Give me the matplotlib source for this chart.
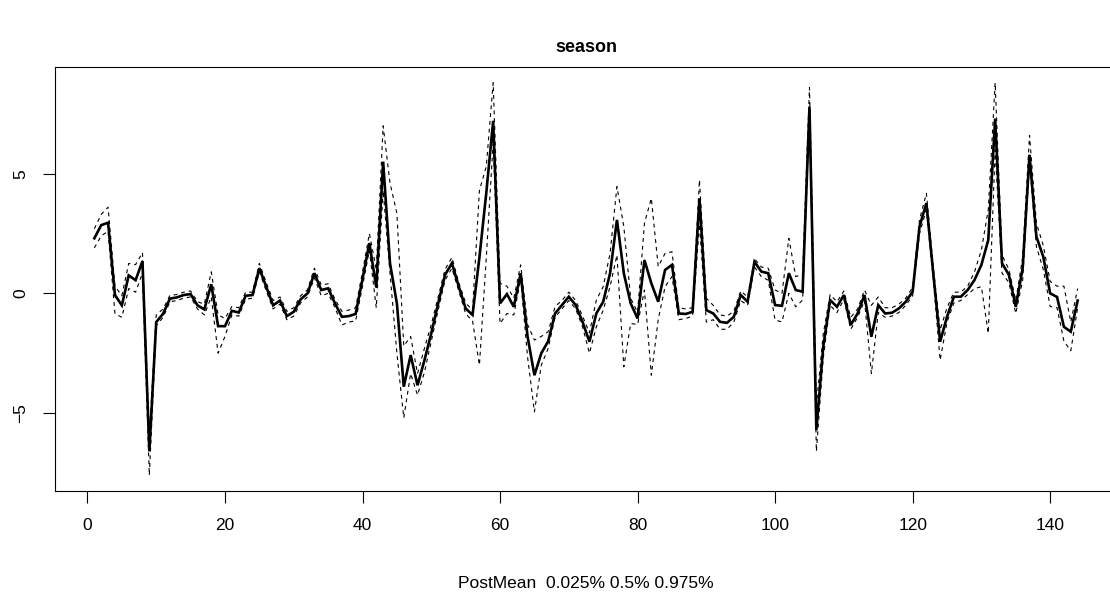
import matplotlib
matplotlib.use("Agg")
import matplotlib.pyplot as plt
import numpy as np

plt.rcParams["font.family"] = ["Liberation Sans", "DejaVu Sans"]

# Posterior summaries of the seasonal random effect, one value per index 1..144
index = list(range(1, 145))

post_mean = [
    2.30, 2.85, 2.95, -0.07, -0.50, 0.75, 0.55, 1.35, -6.60, -1.20,
    -0.85, -0.22, -0.17, -0.07, -0.03, -0.50, -0.67, 0.38, -1.37, -1.37,
    -0.73, -0.80, -0.10, -0.07, 1.05, 0.28, -0.50, -0.30, -0.95, -0.77,
    -0.25, 0.00, 0.84, 0.14, 0.21, -0.42, -0.98, -0.95, -0.86, 0.60,
    2.10, 0.25, 5.50, 1.25, -0.42, -3.90, -2.58, -3.84, -2.80, -1.67,
    -0.42, 0.77, 1.26, 0.28, -0.63, -0.90, 1.50, 4.20, 7.20, -0.42,
    -0.03, -0.56, 0.84, -1.80, -3.42, -2.50, -2.00, -0.84, -0.49, -0.14,
    -0.49, -1.19, -2.02, -0.84, -0.35, 0.84, 3.07, 0.84, -0.42, -1.05,
    1.39, 0.42, -0.35, 0.98, 1.19, -0.84, -0.86, -0.77, 3.97, -0.70,
    -0.84, -1.19, -1.23, -0.98, -0.07, -0.35, 1.32, 0.91, 0.84, -0.49,
    -0.52, 0.84, 0.14, 0.07, 7.80, -5.72, -2.23, -0.28, -0.56, -0.07,
    -1.32, -0.84, -0.07, -1.81, -0.49, -0.84, -0.81, -0.63, -0.35, 0.07,
    2.79, 3.77, 0.84, -2.02, -0.98, -0.14, -0.14, 0.14, 0.56, 1.19,
    2.23, 7.30, 1.26, 0.77, -0.56, 1.05, 5.79, 2.37, 1.53, 0.00,
    -0.15, -1.40, -1.60, -0.30,
]

q025 = [
    1.90, 2.40, 2.60, -0.85, -1.00, 0.20, 0.05, 0.85, -7.60, -1.35,
    -1.00, -0.35, -0.30, -0.20, -0.15, -0.65, -0.90, -0.15, -2.50, -1.80,
    -0.90, -0.95, -0.25, -0.20, 0.90, 0.10, -0.65, -0.45, -1.10, -0.95,
    -0.40, -0.15, 0.65, -0.10, 0.00, -0.60, -1.32, -1.20, -1.15, 0.30,
    1.80, -0.60, 4.30, 0.84, -2.50, -5.20, -3.35, -4.25, -3.30, -2.00,
    -0.70, 0.55, 1.05, 0.10, -0.85, -1.15, -3.00, 1.50, 6.30, -1.26,
    -0.84, -0.90, 0.60, -2.65, -4.95, -3.00, -2.30, -1.00, -0.65, -0.30,
    -0.65, -1.40, -2.50, -1.40, -0.70, 0.28, 1.60, -3.07, -1.26, -1.30,
    0.14, -3.42, -1.10, 0.28, 0.70, -1.10, -1.05, -0.95, 2.90, -1.20,
    -1.10, -1.50, -1.50, -1.20, -0.30, -0.50, 1.10, 0.70, 0.55, -1.12,
    -1.19, 0.00, -0.56, -0.28, 7.50, -6.60, -2.70, -0.50, -0.80, -0.25,
    -1.50, -1.00, -0.30, -3.35, -0.80, -1.00, -0.95, -0.80, -0.50, -0.10,
    2.50, 3.50, 0.60, -2.79, -1.20, -0.40, -0.30, -0.05, 0.20, 0.28,
    -1.67, 6.00, 0.85, 0.45, -0.84, 0.55, 5.50, 1.95, 1.00, -0.55,
    -0.60, -2.00, -2.40, -0.60,
]

q975 = [
    2.70, 3.30, 3.60, 0.30, -0.10, 1.25, 1.20, 1.70, -6.00, -0.90,
    -0.65, -0.08, -0.05, 0.05, 0.10, -0.35, -0.45, 0.90, -0.90, -1.05,
    -0.55, -0.60, 0.05, 0.05, 1.25, 0.45, -0.30, -0.15, -0.75, -0.60,
    -0.10, 0.15, 1.05, 0.35, 0.40, -0.25, -0.75, -0.70, -0.60, 0.90,
    2.50, 1.00, 7.00, 4.60, 3.35, -2.20, -1.80, -3.35, -2.30, -1.30,
    -0.15, 1.00, 1.50, 0.45, -0.40, -0.70, 4.30, 5.30, 8.80, 0.42,
    0.30, -0.20, 1.19, -1.30, -1.95, -1.80, -1.60, -0.55, -0.30, 0.05,
    -0.30, -0.95, -1.65, -0.28, 0.28, 1.67, 4.46, 2.79, -0.20, -0.80,
    2.93, 3.97, 1.12, 1.67, 1.74, -0.60, -0.65, -0.60, 4.74, -0.20,
    -0.50, -0.90, -0.95, -0.75, 0.10, -0.15, 1.45, 1.10, 1.05, 0.14,
    0.00, 2.30, 0.70, 0.80, 8.60, -4.70, -1.70, -0.05, -0.35, 0.10,
    -1.00, -0.65, 0.14, -0.50, -0.15, -0.60, -0.60, -0.45, -0.20, 0.25,
    3.07, 4.18, 1.10, -1.53, -0.60, 0.05, 0.05, 0.30, 0.90, 1.81,
    3.50, 8.80, 1.60, 1.00, -0.30, 1.50, 6.60, 2.93, 2.00, 0.50,
    0.30, 0.30, -1.20, 0.20,
]

# the posterior median sits on top of the mean
q500 = list(post_mean)

W, H = 1110, 604
fig = plt.figure(figsize=(W / 100, H / 100), dpi=100)

left_px, right_px, top_px, bottom_px = 55, 1117, 67, 491
ax = fig.add_axes([left_px / W, 1 - bottom_px / H,
                   (right_px - left_px) / W, (bottom_px - top_px) / H])

dash = (0, (3.5, 3.5))
ax.plot(index, post_mean, color="black", lw=1.9, solid_joinstyle="miter")
for q in (q025, q500, q975):
    ax.plot(index, q, color="black", lw=0.8, linestyle=dash)

# R-style 4% padding around the data range
allv = np.concatenate([post_mean, q025, q975])
lo, hi = allv.min(), allv.max()
pad = 0.04 * (hi - lo)
ax.set_ylim(lo - pad, hi + pad)
xpad = 0.04 * (index[-1] - index[0])
ax.set_xlim(index[0] - xpad, index[-1] + xpad)

ax.set_xticks(range(0, 141, 20))
ax.set_yticks([-5, 0, 5])
ax.tick_params(direction="out", length=8.8, width=0.8, pad=10.5,
               labelsize=12.5, colors="black")
for lab in ax.get_yticklabels():
    lab.set_rotation(90)
    lab.set_va("center")
for s in ax.spines.values():
    s.set_linewidth(0.8)
    s.set_color("black")
ax.spines["right"].set_visible(False)

fig.text(586 / W, 1 - 48 / H, "season", ha="center", va="center",
         fontsize=13, fontweight="bold")
fig.text(586 / W, 1 - 583 / H, "PostMean  0.025% 0.5% 0.975%",
         ha="center", va="center", fontsize=12.5)

fig.savefig("out.png", dpi=100)
